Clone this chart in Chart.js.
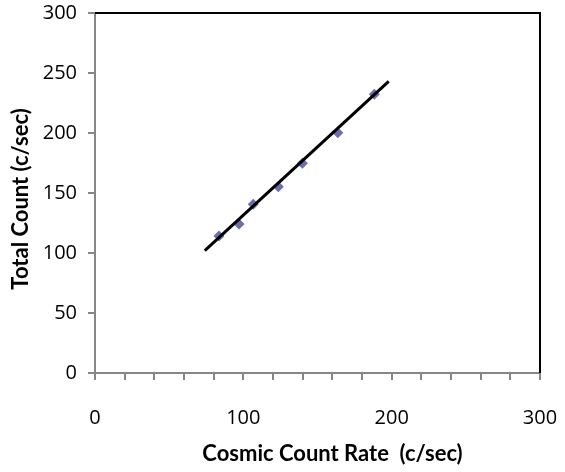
<!DOCTYPE html>
<html>
<head>
<meta charset="utf-8">
<script src="https://cdn.jsdelivr.net/npm/chart.js@4"></script>
<style>
  html, body { margin: 0; padding: 0; background: #fff; }
  #wrap { width: 565px; height: 472px; }
</style>
</head>
<body>
<div id="wrap"><canvas id="chart" width="565" height="472"></canvas></div>
<script>
// measured points
const cosmicRate = [83.6, 97.1, 106.7, 123.6, 139.8, 163.7, 188.3];
const totalCount = [114.2, 124.2, 140.6, 155.3, 174.8, 200.3, 232.2];
// fitted line end points
const fitX = [74, 198];
const fitY = [102, 243];

const xTitle = 'Cosmic Count Rate  (c/sec)';
const yTitle = 'Total Count (c/sec)';

const TICK_FONT = '"Open Sans", sans-serif';
const TITLE_FONT = 'Lato, "Open Sans", sans-serif';

// black frame on top and right, like the spreadsheet plot area
const framePlugin = {
    id: 'frame',
    afterDraw(chart) {
        const a = chart.chartArea;
        const ctx = chart.ctx;
        ctx.save();
        ctx.strokeStyle = '#000';
        ctx.lineWidth = 2;
        ctx.beginPath();
        ctx.moveTo(a.left, a.top);
        ctx.lineTo(a.right, a.top);
        ctx.lineTo(a.right, a.bottom);
        ctx.stroke();
        ctx.restore();
    }
};

// axis titles sit a little off-centre in the original, so draw them here
const titlePlugin = {
    id: 'axisTitles',
    afterDraw(chart) {
        const a = chart.chartArea;
        const ctx = chart.ctx;
        ctx.save();
        ctx.fillStyle = '#000';
        ctx.font = 'bold 22px ' + TITLE_FONT;
        ctx.textAlign = 'center';
        ctx.textBaseline = 'middle';
        ctx.fillText(xTitle, (a.left + a.right) / 2 + 15, chart.height - 18);
        ctx.translate(21, (a.top + a.bottom) / 2 + 6);
        ctx.rotate(-Math.PI / 2);
        ctx.fillText(yTitle, 0, 0);
        ctx.restore();
    }
};

new Chart(document.getElementById('chart'), {
    type: 'scatter',
    data: {
        datasets: [{
            label: 'Fit',
            data: fitX.map((x, i) => ({ x: x, y: fitY[i] })),
            showLine: true,
            borderColor: '#000',
            borderWidth: 3,
            pointRadius: 0,
            order: 1
        }, {
            label: 'Data',
            data: cosmicRate.map((x, i) => ({ x: x, y: totalCount[i] })),
            pointStyle: 'rectRot',
            pointRadius: 5.5,
            backgroundColor: '#6b6fab',
            borderColor: '#6b6fab',
            borderWidth: 0,
            order: 2
        }]
    },
    options: {
        responsive: false,
        animation: false,
        layout: { padding: { top: 13, right: 25, left: 0, bottom: 0 } },
        plugins: { legend: { display: false }, tooltip: { enabled: false } },
        scales: {
            x: {
                min: 0, max: 300,
                afterFit: s => {
                    s.height = 99;
                    s.paddingLeft = 0;
                    s.paddingRight = 0;
                },
                grid: { drawOnChartArea: false, color: '#868686', tickLength: 7, lineWidth: 2 },
                border: { color: '#868686', width: 2 },
                ticks: {
                    stepSize: 20,
                    autoSkip: false,
                    maxRotation: 0,
                    padding: 26,
                    color: '#000',
                    font: { family: TICK_FONT, size: 20 },
                    callback: v => (v % 100 === 0 ? v : '')
                }
            },
            y: {
                min: 0, max: 300,
                afterFit: s => {
                    s.width = 95;
                    s.paddingTop = 0;
                    s.paddingBottom = 0;
                },
                grid: { drawOnChartArea: false, color: '#868686', tickLength: 7, lineWidth: 2 },
                border: { color: '#868686', width: 2 },
                ticks: {
                    stepSize: 50,
                    padding: 11,
                    color: '#000',
                    font: { family: TICK_FONT, size: 20 }
                }
            }
        }
    },
    plugins: [framePlugin, titlePlugin]
});
</script>
</body>
</html>
